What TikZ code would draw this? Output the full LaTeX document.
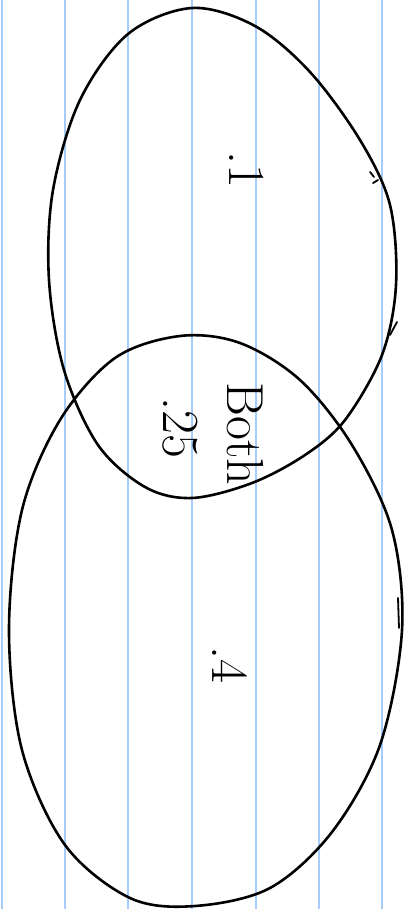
\documentclass[tikz,border=0pt]{standalone}
\usepackage{tikz}
\usetikzlibrary{positioning}
\definecolor{ruleblue}{HTML}{A6CDF7}

\begin{document}
\begin{tikzpicture}[
    x=1pt, y=-1pt,
    every node/.style={font=\fontsize{52}{52}\selectfont, inner sep=0pt},
    setline/.style={line width=2.6pt, black, line cap=round, line join=round},
    ruled/.style={line width=1.6pt, ruleblue},
    handlabel/.style={rotate=-90}
]
\useasboundingbox (0,0) rectangle (409,909);
\fill[white] (0,0) rectangle (409,909);

% Lineas del papel
\foreach \lx in {2,65,128,192,256,319,382} {
    \draw[ruled] (\lx,0) -- (\lx,909);
}

% Conjunto superior
\draw[setline] plot[smooth cycle, tension=0.55] coordinates {
    (192,8) (128,34) (80,100) (53,190) (49,280) (64,370) (98,445)
    (145,487) (192,498) (252,483) (305,455) (345,420) (382,355)
    (396,285) (390,205) (360,140) (310,72) (255,26)};

% Conjunto inferior
\draw[setline] plot[smooth cycle, tension=0.55] coordinates {
    (180,336) (115,358) (60,420) (22,510) (9,630) (22,750) (65,845)
    (130,898) (195,906) (270,888) (332,832) (380,745) (402,630)
    (392,530) (352,445) (300,380) (240,343)};

% Trazos sueltos
\draw[setline, line width=1.8pt] (370,172) -- (374,177);
\draw[setline, line width=1.8pt] (373,183) -- (378,180);
\draw[setline, line width=1.8pt] (390,335) -- (397,322);
\draw[setline, line width=1.8pt] (398,598) -- (399,628);

% Probabilidades
\node[handlabel] (pa)   at (247,170) {.1};
\node[handlabel] (pab)  at (180,428) {.25};
\node[handlabel] (both) at (245,434) {Both};
\node[handlabel] (pb)   at (230,665) {.4};

\end{tikzpicture}
\end{document}
